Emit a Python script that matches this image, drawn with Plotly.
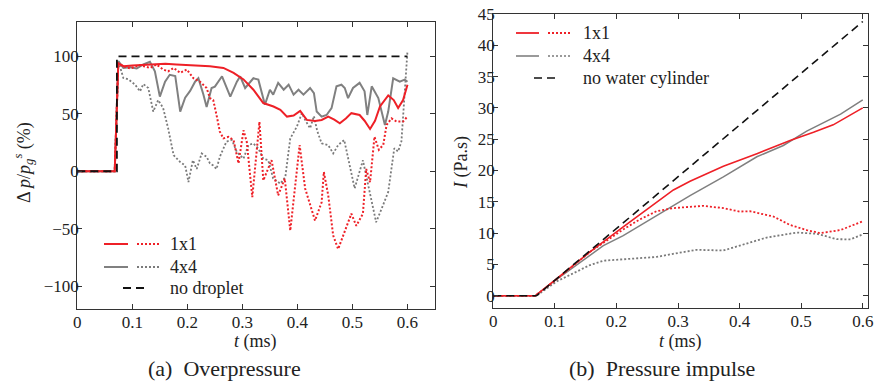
import plotly.graph_objects as go

W, H = 876, 387

# ---------------- (a) Overpressure data ----------------
t_nodrop = [0, 0.072, 0.072, 0.6]
v_nodrop = [0, 0, 100, 100]

t_r1_solid = [0, 0.068, 0.0745, 0.084, 0.10, 0.12, 0.14, 0.16, 0.18, 0.20, 0.22, 0.241, 0.2655,
              0.284, 0.302, 0.32, 0.338, 0.3565, 0.369, 0.381, 0.393, 0.405, 0.417, 0.432, 0.444,
              0.456, 0.467, 0.477, 0.488, 0.498, 0.513, 0.522, 0.532, 0.541, 0.550, 0.565, 0.575,
              0.583, 0.592, 0.6]
v_r1_solid = [0, 0, 94, 91.5, 92, 92.4, 93, 93.6, 93, 92.5, 92.5, 91.5, 90,
              85.7, 80, 71, 59.4, 56.4, 53.5, 47.6, 48.5, 52.6, 44.7, 43.8, 44.7,
              47.6, 45, 41.8, 46, 50.6, 49, 44, 36.8, 44, 56.4, 66, 62,
              55, 62, 75.4]

t_r1_dot = [0, 0.068, 0.0745, 0.0837, 0.096, 0.114, 0.132, 0.144, 0.156, 0.165, 0.175, 0.187,
            0.199, 0.211, 0.223, 0.235, 0.241, 0.247, 0.253, 0.259, 0.2655, 0.275, 0.284, 0.293,
            0.302, 0.308, 0.318, 0.331, 0.338, 0.347, 0.353, 0.365, 0.377, 0.387, 0.396, 0.404,
            0.414, 0.423, 0.432, 0.444, 0.448, 0.456, 0.465, 0.474, 0.486, 0.498, 0.507, 0.519,
            0.525, 0.532, 0.54, 0.548, 0.556, 0.562, 0.571, 0.58, 0.592, 0.6]
v_r1_dot = [0, 0, 94, 91.5, 89.5, 92.5, 90, 93, 88.6, 87, 90, 85.7,
            88.6, 81, 78, 72.5, 63.7, 62, 49, 34.5, 28.6, 30, 27, 6.8,
            35.6, 25.6, -22.5, 43, -8, 2, 9.6, -21, -6.4, -51.8, -12, 22.8,
            -15, -30, -43, -27, -0.6, -21, -56, -67.8, -53, -37, -47.5, -37,
            2, -9.6, 30, 18.7, 23, 40.3, 46, 43.3, 43.3, 47.7]

t_g4_solid = [0, 0.068, 0.0745, 0.0837, 0.0958, 0.108, 0.120, 0.132, 0.141, 0.150, 0.1595, 0.168,
              0.178, 0.187, 0.196, 0.205, 0.214, 0.220, 0.229, 0.235, 0.244, 0.25, 0.263, 0.278,
              0.290, 0.296, 0.305, 0.32, 0.329, 0.341, 0.35, 0.356, 0.365, 0.375, 0.384, 0.393,
              0.402, 0.411, 0.423, 0.430, 0.435, 0.444, 0.453, 0.462, 0.471, 0.480, 0.486, 0.492,
              0.501, 0.513, 0.522, 0.527, 0.535, 0.547, 0.559, 0.565, 0.574, 0.586, 0.595, 0.6]
v_g4_solid = [0, 0, 96, 90, 90.6, 89.5, 93, 95.3, 87, 65, 78, 84,
              83, 52, 64, 70, 78, 81, 67, 56, 72.5, 73.7, 82.7, 65,
              78, 82.7, 72.5, 81, 79.8, 58, 71, 66.7, 76.9, 71, 75.4, 66.7,
              71, 66.7, 72.5, 68, 52, 47.6, 49, 55, 74, 75.4, 72.5, 63.7,
              72.5, 77, 69.6, 49, 74, 63.7, 40.3, 52, 81, 78, 79.8, 78]

t_g4_dot = [0, 0.068, 0.0745, 0.0837, 0.093, 0.105, 0.114, 0.12, 0.129, 0.138, 0.147, 0.156,
            0.165, 0.175, 0.187, 0.196, 0.202, 0.210, 0.217, 0.226, 0.235, 0.241, 0.247, 0.253,
            0.259, 0.271, 0.281, 0.29, 0.302, 0.311, 0.32, 0.329, 0.338, 0.347, 0.356, 0.369,
            0.378, 0.387, 0.399, 0.408, 0.414, 0.423, 0.430, 0.436, 0.444, 0.456, 0.465, 0.474,
            0.485, 0.492, 0.504, 0.519, 0.528, 0.543, 0.553, 0.565, 0.576, 0.583, 0.589, 0.595, 0.6]
v_g4_dot = [0, 0, 96, 81.3, 80, 75.4, 69.6, 76, 72.5, 52, 62, 55,
            37.5, 14, 8, 5, -9.4, 9.6, 2, 15.5, 12.6, 6.8, 5, 2,
            12.6, 25.8, 27.2, 16.7, 11, 22.8, 24.2, 19.8, 11, 9.6, -6.4, -10.8,
            -5, 28.6, 38.9, 50.6, 44.7, 37.4, 48, 35, 24.3, 22.8, 15.5, 22.8,
            27.2, 11, -15, 9.6, -9.6, -44.4, -32.7, -18, 20, 17.2, 26, 66.7, 104.7]

# ---------------- (b) Pressure impulse data ----------------
t_nowc = [0, 0.07, 0.6]
i_nowc = [0, 0, 43.8]

t_r1_I_solid = [0, 0.068, 0.1, 0.157, 0.211, 0.265, 0.2925, 0.3195, 0.3736, 0.428, 0.482, 0.52, 0.552, 0.6]
i_r1_I_solid = [0, 0, 2.5, 7.0, 11.0, 15.0, 16.9, 18.3, 20.7, 22.7, 24.8, 26.1, 27.3, 30.0]

t_r1_I_dot = [0, 0.068, 0.1, 0.157, 0.211, 0.238, 0.265, 0.292, 0.341, 0.3736, 0.4, 0.417, 0.455,
              0.482, 0.509, 0.5306, 0.564, 0.6]
i_r1_I_dot = [0, 0, 2.4, 7.0, 10.6, 12.2, 13.5, 14.0, 14.36, 14.0, 13.45, 13.5, 12.65,
              11.3, 10.5, 10.0, 10.5, 11.9]

t_g4_I_solid = [0, 0.068, 0.1, 0.1787, 0.211, 0.265, 0.3195, 0.3736, 0.428, 0.471, 0.509, 0.564, 0.6]
i_g4_I_solid = [0, 0, 2.4, 8.0, 9.6, 12.8, 16.0, 19.0, 22.2, 24.0, 26.3, 29.0, 31.3]

t_g4_I_dot = [0, 0.07, 0.103, 0.1355, 0.157, 0.1787, 0.211, 0.265, 0.292, 0.33, 0.3736, 0.4116,
              0.444, 0.4928, 0.525, 0.558, 0.58, 0.6]
i_g4_I_dot = [0, 0, 2.3, 3.9, 4.9, 5.6, 5.85, 6.2, 6.7, 7.34, 7.23, 8.4,
              9.3, 10.1, 9.9, 9.04, 9.0, 9.8]

x_ticks = [0, 0.1, 0.2, 0.3, 0.4, 0.5, 0.6]
y_ticks_a = [-100, -50, 0, 50, 100]
y_ticks_b = [0, 5, 10, 15, 20, 25, 30, 35, 40, 45]

RED = "#ee2027"
GRAY = "#808080"
GRAY_D = "#7a7a7a"
BLACK = "#111111"
FONT = "Liberation Serif"
TXT = "#222222"

fig = go.Figure()

def add(x, y, color, width, dash, xa, ya):
    fig.add_trace(go.Scatter(x=x, y=y, mode="lines", xaxis=xa, yaxis=ya, showlegend=False,
                             line=dict(color=color, width=width, dash=dash),
                             hoverinfo="skip"))

# (a)
add(t_g4_dot, v_g4_dot, GRAY_D, 1.8, "2px,2px", "x", "y")
add(t_g4_solid, v_g4_solid, GRAY, 2.0, "solid", "x", "y")
add(t_r1_dot, v_r1_dot, RED, 2.0, "2px,2px", "x", "y")
add(t_r1_solid, v_r1_solid, RED, 2.0, "solid", "x", "y")
add(t_nodrop, v_nodrop, BLACK, 1.8, "8px,5px", "x", "y")
# (b)
add(t_g4_I_dot, i_g4_I_dot, GRAY_D, 1.8, "2px,2px", "x2", "y2")
add(t_g4_I_solid, i_g4_I_solid, GRAY, 1.5, "solid", "x2", "y2")
add(t_r1_I_dot, i_r1_I_dot, RED, 1.8, "2px,2px", "x2", "y2")
add(t_r1_I_solid, i_r1_I_solid, RED, 1.6, "solid", "x2", "y2")
add(t_nowc, i_nowc, BLACK, 1.6, "8px,5px", "x2", "y2")

def px(x):
    return x / W

def py(y):
    return 1 - y / H

axis_common = dict(showline=True, linecolor="#333333", linewidth=1.3, mirror="ticks",
                   ticks="inside", ticklen=5, tickwidth=1.1, tickcolor="#333333",
                   showgrid=False, zeroline=False, automargin=False,
                   ticklabeloverflow="allow",
                   tickfont=dict(family=FONT, size=17, color=TXT))

fig.update_layout(
    width=W, height=H, autosize=False,
    margin=dict(l=0, r=0, t=0, b=0),
    paper_bgcolor="white", plot_bgcolor="white",
    xaxis=dict(domain=[px(77.3), px(435)], range=[0, 0.65], tickvals=x_ticks,
               anchor="y", ticklabelstandoff=-3, **axis_common),
    yaxis=dict(domain=[py(309), py(22)], range=[-120, 130], tickvals=y_ticks_a,
               anchor="x", ticklabelstandoff=-6, **axis_common),
    xaxis2=dict(domain=[px(493.3), px(868.3)], range=[0, 0.609], tickvals=x_ticks,
                anchor="y2", ticklabelstandoff=-3, **axis_common),
    yaxis2=dict(domain=[py(308.3), py(14)], range=[-2, 45], tickvals=y_ticks_b,
                anchor="x2", ticklabelstandoff=-6, **axis_common),
)

shapes = []
annotations = []

def leg_line(x0, x1, y, color, dash, width=2):
    shapes.append(dict(type="line", xref="paper", yref="paper", x0=px(x0), x1=px(x1),
                       y0=py(y), y1=py(y), line=dict(color=color, width=width, dash=dash)))

def text(x, y, s, size=18, xanchor="left", angle=0):
    annotations.append(dict(xref="paper", yref="paper", x=px(x), y=py(y), text=s,
                            showarrow=False, xanchor=xanchor, yanchor="middle",
                            textangle=angle, font=dict(family=FONT, size=size, color=TXT)))

# legend (a)
leg_line(104, 128, 244, RED, "solid")
leg_line(137, 160, 244, RED, "2px,2px")
text(168, 244, "1x1")
leg_line(104, 128, 267, GRAY, "solid")
leg_line(137, 160, 267, GRAY_D, "2px,2px")
text(168, 267, "4x4")
leg_line(123, 147, 288, BLACK, "8px,5px")
text(168, 288, "no droplet")

# legend (b)
leg_line(516, 539, 33, RED, "solid", 1.8)
leg_line(548, 572, 33, RED, "2px,2px", 1.8)
text(581, 33, "1x1")
leg_line(516, 539, 56, GRAY, "solid", 1.6)
leg_line(548, 572, 56, GRAY_D, "2px,2px", 1.6)
text(581, 56, "4x4")
leg_line(534, 559, 78, BLACK, "8px,5px", 1.6)
text(581, 78, "no water cylinder")

# axis titles
text(255, 341, "<i>t</i> (ms)", xanchor="center")
text(680, 341, "<i>t</i> (ms)", xanchor="center")
text(24, 163, "Δ <i>p</i>/<i>p</i><sub><i>g</i></sub><sup><i>s</i></sup> (%)", xanchor="center", angle=-90)
text(462, 163, "<i>I</i> (Pa.s)", xanchor="center", angle=-90)

# captions
text(224, 368, "(a)  Overpressure", size=22, xanchor="center")
text(662, 368, "(b)  Pressure impulse", size=22, xanchor="center")

fig.update_layout(shapes=shapes, annotations=annotations)

fig.write_html("out.html", config={"displayModeBar": False},
               post_script="document.body.style.margin='0';document.body.style.overflow='hidden';")
